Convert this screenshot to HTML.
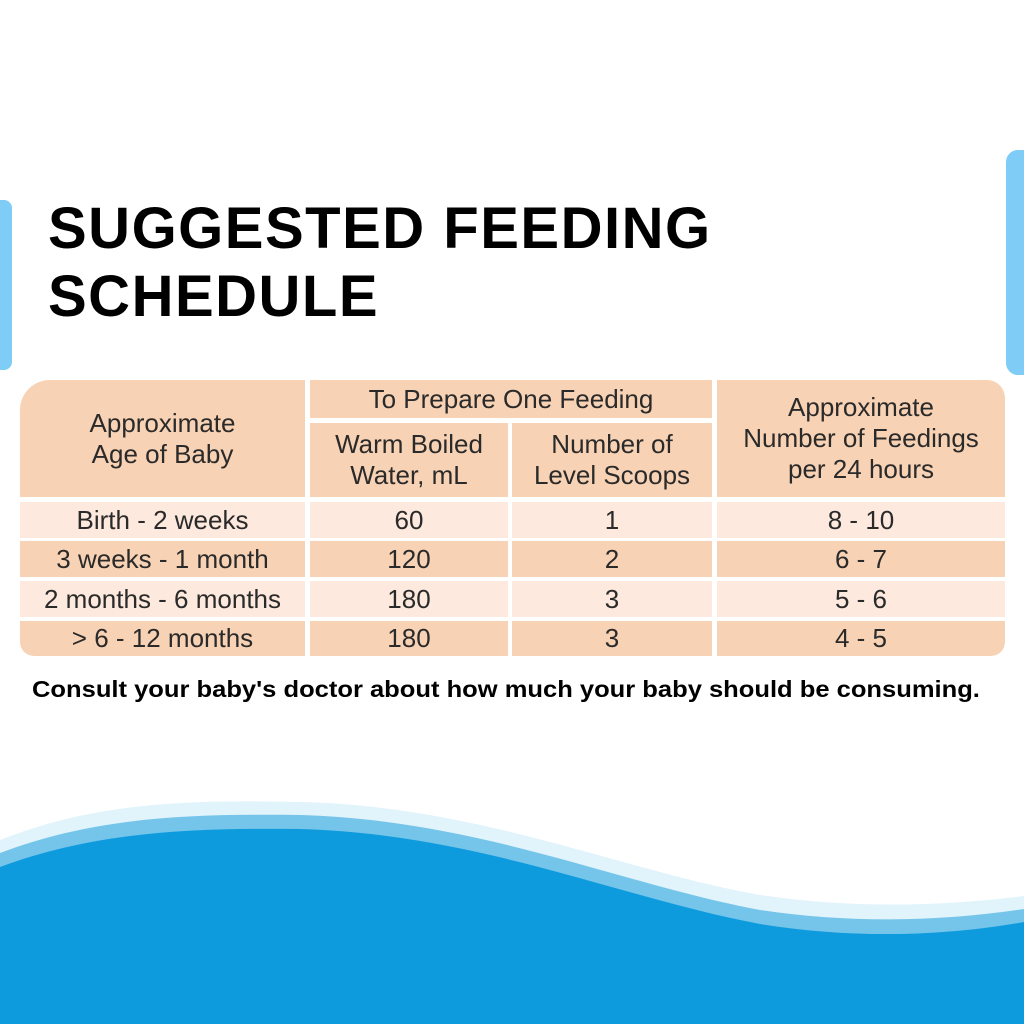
<!DOCTYPE html>
<html><head><style>
body{margin:0;width:1024px;height:1024px;background:#fff;position:relative;overflow:hidden;font-family:"Liberation Sans",sans-serif}
.c{position:absolute;display:flex;align-items:center;justify-content:center;text-align:center;color:#2a2a2a;font-size:26px;line-height:31px}
.h{background:#f8d2b4}
.l{background:#fde9dd}
</style></head><body>
<div style="position:absolute;left:-10px;top:200px;width:22px;height:170px;background:#7fcdf6;border-radius:8px"></div>
<div style="position:absolute;left:1006px;top:150px;width:30px;height:225px;background:#7fcdf6;border-radius:12px"></div>
<div style="position:absolute;left:48px;top:195px;font-size:58px;font-weight:bold;line-height:68px;letter-spacing:1.5px;color:#000">SUGGESTED FEEDING<br>SCHEDULE</div>
<div class="c h" style="left:20px;top:380px;width:285px;height:117px;border-radius:30px 0 0 0">Approximate<br>Age of Baby</div>
<div class="c h" style="left:310px;top:380px;width:402px;height:38px">To Prepare One Feeding</div>
<div class="c h" style="left:310px;top:423px;width:198px;height:74px">Warm Boiled<br>Water, mL</div>
<div class="c h" style="left:512px;top:423px;width:200px;height:74px">Number of<br>Level Scoops</div>
<div class="c h" style="left:717px;top:380px;width:288px;height:117px;border-radius:0 18px 0 0">Approximate<br>Number of Feedings<br>per 24 hours</div>

<div class="c l" style="left:20px;top:502px;width:285px;height:36px">Birth - 2 weeks</div>
<div class="c l" style="left:310px;top:502px;width:198px;height:36px">60</div>
<div class="c l" style="left:512px;top:502px;width:200px;height:36px">1</div>
<div class="c l" style="left:717px;top:502px;width:288px;height:36px">8 - 10</div>

<div class="c h" style="left:20px;top:541px;width:285px;height:36px">3 weeks - 1 month</div>
<div class="c h" style="left:310px;top:541px;width:198px;height:36px">120</div>
<div class="c h" style="left:512px;top:541px;width:200px;height:36px">2</div>
<div class="c h" style="left:717px;top:541px;width:288px;height:36px">6 - 7</div>

<div class="c l" style="left:20px;top:581px;width:285px;height:36px">2 months - 6 months</div>
<div class="c l" style="left:310px;top:581px;width:198px;height:36px">180</div>
<div class="c l" style="left:512px;top:581px;width:200px;height:36px">3</div>
<div class="c l" style="left:717px;top:581px;width:288px;height:36px">5 - 6</div>

<div class="c h" style="left:20px;top:621px;width:285px;height:35px;border-radius:0 0 0 14px">&gt; 6 - 12 months</div>
<div class="c h" style="left:310px;top:621px;width:198px;height:35px">180</div>
<div class="c h" style="left:512px;top:621px;width:200px;height:35px">3</div>
<div class="c h" style="left:717px;top:621px;width:288px;height:35px;border-radius:0 0 14px 0">4 - 5</div>

<div style="position:absolute;left:32px;top:676px;font-size:23px;font-weight:bold;color:#000;white-space:nowrap;transform:scaleX(1.11);transform-origin:left">Consult your baby's doctor about how much your baby should be consuming.</div>

<svg style="position:absolute;left:0;top:0" width="1024" height="1024">
<path d="M0,840 C100,800 200,800 300,802 C480,806 620,870 760,895 C860,910 950,905 1024,896 L1024,1024 L0,1024Z" fill="#e1f3fb"/>
<path d="M0,853 C100,815 200,814 300,815 C480,820 620,884 760,910 C860,925 950,920 1024,909 L1024,1024 L0,1024Z" fill="#75c4ea"/>
<path d="M0,867 C100,830 200,828 300,829 C480,834 620,898 760,924 C860,940 950,935 1024,922 L1024,1024 L0,1024Z" fill="#0e9bdd"/>
</svg>
</body></html>
